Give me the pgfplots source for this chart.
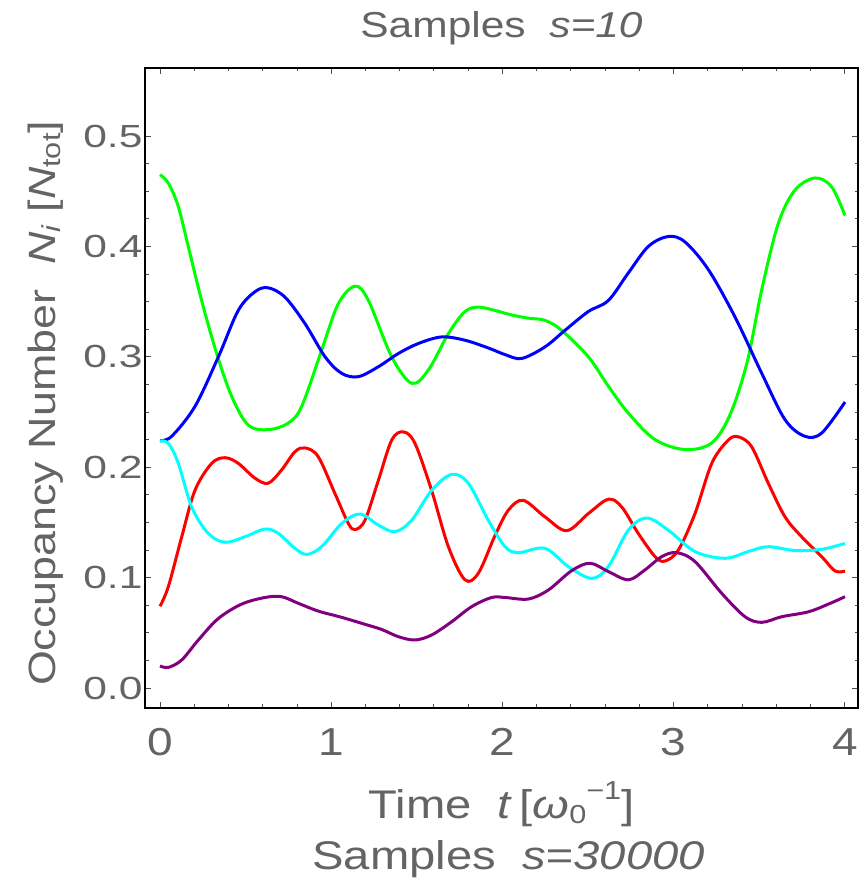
\documentclass[border=0pt]{standalone}
\usepackage{fontspec}
\setmainfont{Liberation Sans}[FakeStretch=1.18]
\newfontfamily\ytfont{Liberation Sans}[FakeStretch=1.33]
\usepackage{pgfplots}
\pgfplotsset{compat=1.18}
\definecolor{txt}{RGB}{100,100,100}
\definecolor{cgreen}{RGB}{0,255,0}
\definecolor{cblue}{RGB}{0,0,255}
\definecolor{cred}{RGB}{255,0,0}
\definecolor{ccyan}{RGB}{0,255,255}
\definecolor{cpurple}{RGB}{128,0,128}
\newcommand{\sub}[1]{\raisebox{-0.25ex}{\fontsize{26bp}{28bp}\selectfont #1}}
\newcommand{\supr}[1]{\raisebox{0.9ex}{\fontsize{26bp}{28bp}\selectfont #1}}
\begin{document}
\begin{tikzpicture}
\useasboundingbox (0,0) rectangle (862bp,882bp);
\begin{axis}[
  at={(145bp,174bp)}, anchor=south west,
  scale only axis, width=713bp, height=640bp,
  xmin=-0.0876, xmax=4.076, ymin=-0.0181, ymax=0.5616,
  xtick={0,1,2,3,4}, minor x tick num=4,
  ytick={0,0.1,0.2,0.3,0.4,0.5}, minor y tick num=3,
  major tick length=6bp, minor tick length=3.5bp,
  tick style={draw=black!70, line width=1bp},
  axis line style={draw=black, line width=1.6bp},
  /pgf/number format/assume math mode=true,
  yticklabel style={/pgf/number format/fixed, /pgf/number format/fixed zerofill, /pgf/number format/precision=1},
  yticklabel style={font=\ytfont\fontsize{32bp}{34bp}\selectfont, text=txt, anchor=east, xshift=1bp},
  xticklabel style={font=\fontsize{39bp}{41bp}\selectfont, text=txt, anchor=base, yshift=-47bp},
  title={Samples\ \ \textit{s=10}},
  title style={font=\fontsize{36bp}{38bp}\selectfont, text=txt, at={(axis description cs:0.5,1.039)}, anchor=base},
  xlabel={Time\ \ \textit{t}\,[\textit{ω}\sub{0}\supr{−1}]},
  xlabel style={font=\fontsize{40bp}{42bp}\selectfont, text=txt, at={(axis description cs:0.5,-0.1719)}, anchor=base},
  ylabel={Occupancy Number\ \ \textit{N}\sub{\textit{i}}\ [\textit{N}\sub{tot}]},
  ylabel style={font=\fontsize{38bp}{40bp}\selectfont, text=txt, at={(axis description cs:-0.1262,0.4758)}, anchor=base},
  every axis plot/.append style={line width=3bp, smooth, tension=0.55, no markers},
  clip=false,
]
\addplot[cgreen] coordinates {
(0,0.465) (0.05,0.457) (0.107,0.436) (0.165,0.400) (0.243,0.351) (0.331,0.303)
(0.419,0.264) (0.516,0.238) (0.632,0.234) (0.749,0.240) (0.827,0.255) (0.944,0.306)
(1.041,0.348) (1.139,0.364) (1.217,0.351) (1.353,0.300) (1.470,0.276) (1.567,0.288)
(1.684,0.321) (1.781,0.341) (1.859,0.345) (1.956,0.342) (2.05,0.338) (2.151,0.335)
(2.248,0.333) (2.345,0.324) (2.501,0.300) (2.62,0.273) (2.735,0.249) (2.891,0.225)
(3.066,0.216) (3.222,0.222) (3.33,0.248) (3.43,0.296) (3.514,0.361)
(3.611,0.421) (3.708,0.451) (3.825,0.462) (3.922,0.454) (4.0,0.428)
};
\addplot[cblue] coordinates {
(0,0.224) (0.068,0.228) (0.204,0.255) (0.341,0.300) (0.457,0.342) (0.555,0.359)
(0.632,0.3625) (0.730,0.354) (0.847,0.330) (0.964,0.300) (1.061,0.285) (1.158,0.282)
(1.275,0.291) (1.392,0.303) (1.508,0.312) (1.645,0.318) (1.781,0.315) (1.917,0.308)
(2.015,0.302) (2.112,0.2985) (2.248,0.309) (2.365,0.324) (2.501,0.341) (2.618,0.351)
(2.735,0.376) (2.852,0.400) (2.968,0.409) (3.066,0.404) (3.202,0.379) (3.358,0.336)
(3.514,0.285) (3.650,0.243) (3.766,0.228) (3.864,0.231) (4.0,0.259)
};
\addplot[cred] coordinates {
(0,0.074) (0.049,0.092) (0.127,0.137) (0.204,0.179) (0.302,0.2035) (0.380,0.2086)
(0.457,0.2035) (0.555,0.190) (0.632,0.1855) (0.710,0.1975) (0.788,0.214) (0.847,0.2175)
(0.924,0.2095) (1.022,0.176) (1.100,0.149) (1.139,0.1435) (1.197,0.152) (1.275,0.188)
(1.353,0.2245) (1.421,0.232) (1.489,0.2215) (1.586,0.179) (1.684,0.128) (1.781,0.098)
(1.859,0.104) (1.956,0.138) (2.034,0.161) (2.121,0.170) (2.248,0.155) (2.375,0.1425)
(2.501,0.158) (2.618,0.171) (2.696,0.164) (2.793,0.140) (2.891,0.119) (2.949,0.115)
(3.027,0.125) (3.124,0.158) (3.222,0.2035) (3.318,0.2245) (3.377,0.2275) (3.455,0.2185)
(3.552,0.1855) (3.650,0.155) (3.747,0.137) (3.864,0.119) (3.942,0.106) (4.0,0.106)
};
\addplot[ccyan] coordinates {
(0,0.2237) (0.049,0.2216) (0.107,0.2035) (0.185,0.164) (0.282,0.140) (0.380,0.132)
(0.496,0.137) (0.613,0.144) (0.691,0.140) (0.788,0.1265) (0.857,0.121) (0.944,0.128)
(1.061,0.149) (1.168,0.1576) (1.275,0.1476) (1.372,0.1416) (1.470,0.152) (1.586,0.179)
(1.703,0.1935) (1.800,0.1855) (1.917,0.152) (2.015,0.128) (2.093,0.1226) (2.248,0.1265)
(2.384,0.110) (2.521,0.0993) (2.618,0.110) (2.735,0.143) (2.842,0.154) (2.968,0.143)
(3.124,0.1236) (3.300,0.1175) (3.435,0.1236) (3.552,0.128) (3.708,0.1245) (3.864,0.1256)
(4.0,0.131)
};
\addplot[cpurple] coordinates {
(0,0.020) (0.049,0.0187) (0.127,0.0254) (0.224,0.0435) (0.341,0.063) (0.477,0.076)
(0.613,0.082) (0.710,0.0827) (0.808,0.0767) (0.924,0.0697) (1.061,0.064) (1.197,0.0577)
(1.295,0.053) (1.392,0.0465) (1.489,0.0435) (1.586,0.048) (1.703,0.060) (1.820,0.0737)
(1.937,0.082) (2.015,0.082) (2.151,0.0806) (2.268,0.0888) (2.404,0.1063) (2.511,0.113)
(2.618,0.1055) (2.735,0.098) (2.832,0.107) (2.930,0.119) (3.017,0.1226) (3.124,0.1145)
(3.280,0.0858) (3.416,0.0646) (3.514,0.0595) (3.631,0.0646) (3.786,0.069) (3.903,0.076)
(4.0,0.0827)
};
\node[font=\fontsize{40bp}{42bp}\selectfont, text=txt, anchor=base] at (axis description cs:0.51,-0.2531) {Samples\ \ \textit{s=30000}};
\end{axis}
\end{tikzpicture}
\end{document}
